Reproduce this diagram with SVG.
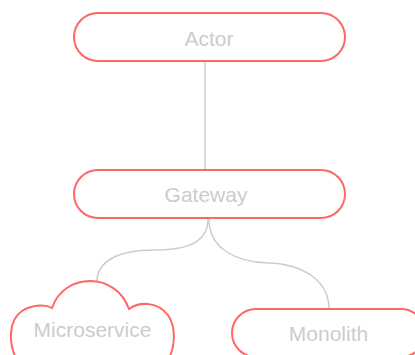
<svg xmlns="http://www.w3.org/2000/svg" width="415" height="355" viewBox="0 0 415 355">
<style>
.node{fill:#fff;stroke:#ff6666;stroke-width:2}
.lbl{font-family:"Liberation Sans",Arial,sans-serif;font-size:21px;fill:#cccccc;text-anchor:middle}
.edge{fill:none;stroke:#cccccc;stroke-width:1.5}
</style>
<rect width="415" height="355" fill="#fff"/>
<g id="connectors">
<path class="edge" d="M205,61 L205,170"/>
<path class="edge" d="M208,219 C208,242 188,250 155,250 C120,250 97,260 97,282"/>
<path class="edge" d="M209,219 C209,248 235,262 268,263 C305,264 329,282 329,309"/>
</g>
<g id="actor">
<rect class="node" x="74" y="13" width="271" height="48" rx="24"/>
<text class="lbl" x="209" y="46">Actor</text>
</g>
<g id="gateway">
<rect class="node" x="74" y="170" width="271" height="48" rx="24"/>
<text class="lbl" x="206" y="201.5">Gateway</text>
</g>
<g id="microservice">
<path class="node" d="M18,362 C8,345 8,320 22,311 C31,305 45,304 52,308 C58,290 74,281 90,281 C108,281 123,292 129,309 C140,301 158,302 168,315 C176,327 176,347 167,362"/>
<text class="lbl" x="92.5" y="337">Microservice</text>
</g>
<g id="monolith">
<rect class="node" x="232" y="309" width="193" height="48" rx="24"/>
<text class="lbl" x="328.5" y="341">Monolith</text>
</g>
</svg>
